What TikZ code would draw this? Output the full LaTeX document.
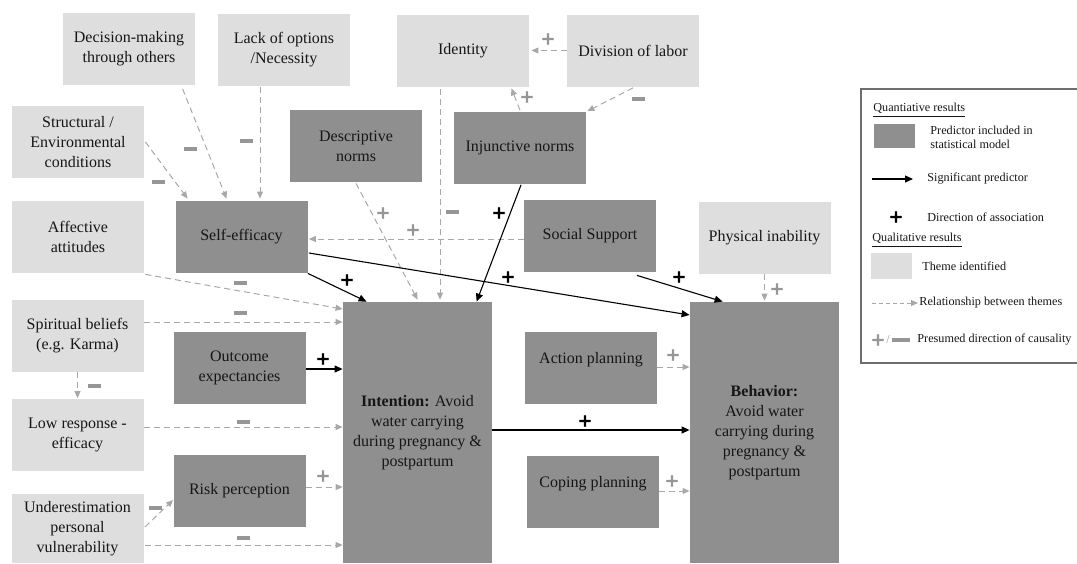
\documentclass[tikz,border=0pt]{standalone}
\usepackage{fontspec}
\setmainfont{Liberation Serif}
\newfontfamily\signfont{DejaVu Sans Bold}[FakeBold=2.5]
\usetikzlibrary{arrows.meta,calc}
\definecolor{lightfill}{RGB}{222,222,222}
\definecolor{darkfill}{RGB}{143,143,143}
\definecolor{dashgray}{RGB}{168,168,168}
\definecolor{signgray}{RGB}{150,150,150}
\definecolor{txt}{RGB}{22,22,22}
\definecolor{legendframe}{RGB}{110,110,110}
\begin{document}
\begin{tikzpicture}[x=0.5pt,y=-0.5pt,
  box/.style={inner sep=0pt, minimum width=66pt, minimum height=36pt, align=center, text=txt, font=\fontsize{8}{10}\selectfont},
  theme/.style={box, fill=lightfill},
  pred/.style={box, fill=darkfill},
  bigbox/.style={pred, minimum width=74.5pt, minimum height=130.5pt},
  dasharr/.style={draw=dashgray, line width=0.5pt, dash pattern=on 3pt off 2pt, -{Triangle[length=3.5pt,width=3pt]}},
  solidarr/.style={draw=black, line width=0.55pt, -{Triangle[length=4pt,width=3.5pt]}},
  bsign/.style={font=\signfont\fontsize{8.5}{8.5}\selectfont, text=black, inner sep=0pt},
  gsign/.style={bsign, text=signgray},
  msign/.style={fill=signgray, minimum width=6.5pt, minimum height=2pt, inner sep=0pt},
  legtext/.style={font=\fontsize{6.1}{7}\selectfont, inner sep=1pt, text=txt}
]
\useasboundingbox (0,0) rectangle (1077,563);

% theme boxes
\node[theme] (dec) at (129,48.5) {Decision-making\\through others};
\node[theme] (lack) at (284,50) {Lack of options\\/Necessity};
\node[theme] (ident) at (463,50.5) {Identity};
\node[theme] (divl) at (633,50.5) {Division of labor};
\node[theme] (struct) at (78,142) {Structural /\\Environmental\\conditions};
\node[theme] (affect) at (78,237) {Affective\\attitudes};
\node[theme] (spirit) at (77.5,335.5) {Spiritual beliefs\\(e.g. Karma)};
\node[theme] (lowresp) at (77.5,434.5) {Low response -\\efficacy};
\node[theme, minimum height=34.5pt] (under) at (77.5,528.5) {Underestimation\\personal\\vulnerability};
\node[theme] (phys) at (764.5,238) {Physical inability};

% predictor boxes
\node[pred] (selfeff) at (241.5,237) {Self-efficacy};
\node[pred] (descr) at (356,146) {Descriptive\\norms};
\node[pred] (injunc) at (520,147.5) {Injunctive norms};
\node[pred] (social) at (590,236) {Social Support};
\node[pred] (outcome) at (239.5,368) {Outcome\\expectancies};
\node[pred] (risk) at (239.5,490.5) {Risk perception};
\node[pred] (action) at (591,368) {Action planning\\\mbox{}};
\node[pred] (coping) at (593,491.5) {Coping planning\\\mbox{}};
\node[bigbox] (intent) at (417.5,432.5) {\textbf{Intention:} Avoid\\water carrying\\during pregnancy \&\\postpartum};
\node[bigbox] (behav) at (764.5,432.5) {\textbf{Behavior:}\\Avoid water\\carrying during\\pregnancy \&\\postpartum};

% dashed relationships
\draw[dasharr] ($(dec.south west)+(120,4)$) -- ($(selfeff.north west)+(51.5,-2)$);
\draw[dasharr] ($(struct.east)+(1,0)$) -- ($(selfeff.north west)+(12.5,-2)$);
\draw[dasharr] ($(lack.south)+(-24,1)$) -- ($(selfeff.north)+(18.5,-2)$);
\draw[dasharr] (divl.west) -- ($(ident.east)+(2,0)$);
\draw[dasharr] ($(injunc.north)+(0,-1)$) -- ($(ident.south east)+(-18,1.5)$);
\draw[dasharr] ($(divl.south)+(0,1)$) -- ($(injunc.north east)+(1,0)$);
\draw[dasharr] ($(descr.south)+(0,1)$) -- ($(intent.north west)+(75,-2)$);
\draw[dasharr] ($(ident.south)+(-23,2)$) -- ($(intent.north)+(22.5,-2)$);
\draw[dasharr] ($(social.west)+(0,3)$) -- ($(selfeff.east)+(1,2)$);
\draw[dasharr] ($(affect.south east)+(1,1)$) -- ($(intent.west)+(0,-123.5)$);
\draw[dasharr] ($(spirit.east)+(0,-13.5)$) -- ($(intent.west)+(0,-110.5)$);
\draw[dasharr] (spirit.south) -- (lowresp.north);
\draw[dasharr] ($(lowresp.east)+(0,-7.5)$) -- ($(intent.west)+(0,-5.5)$);
\draw[dasharr] ($(risk.east)+(0,-3.5)$) -- ($(intent.west)+(0,54.5)$);
\draw[dasharr] ($(under.east)+(1,-1.5)$) -- ($(risk.west)+(0,9.5)$);
\draw[dasharr] ($(under.east)+(1,16.5)$) -- ($(intent.west)+(0,112.5)$);
\draw[dasharr] ($(action.east)+(0,-1)$) -- ($(behav.west)+(0,-65.5)$);
\draw[dasharr] ($(coping.east)+(0,-0.5)$) -- ($(behav.west)+(0,58.5)$);
\draw[dasharr] (phys.south) -- ($(behav.north)+(0,-1)$);

% significant predictors
\draw[solidarr] (selfeff.south east) -- ($(intent.north west)+(24,0)$);
\draw[solidarr] ($(selfeff.east)+(1,16)$) -- ($(behav.west)+(0,-117.5)$);
\draw[solidarr] ($(injunc.south)+(1,1)$) -- ($(intent.north west)+(134,0)$);
\draw[solidarr] ($(social.south)+(47,3)$) -- ($(behav.north west)+(33,0)$);
\draw[solidarr] ($(outcome.east)+(0,1)$) -- ($(intent.west)+(0,-63.5)$);
\draw[solidarr] ($(intent.east)+(0,-2.5)$) -- ($(behav.west)+(0,-2.5)$);

% minus signs
\node[msign] (m1) at (190,149) {};
\node[msign] (m2) at (158,182) {};
\node[msign] (m3) at (246,141) {};
\node[msign] (m4) at (638,99) {};
\node[msign] (m5) at (452,212) {};
\node[msign] (m6) at (240,283) {};
\node[msign] (m7) at (240,313) {};
\node[msign] (m8) at (94,386) {};
\node[msign] (m9) at (243,422) {};
\node[msign] (m10) at (155,508) {};
\node[msign] (m11) at (243,538) {};

% grey plus signs
\node[gsign] (g1) at (548,39) {+};
\node[gsign] (g2) at (527,97) {+};
\node[gsign] (g3) at (383,213) {+};
\node[gsign] (g4) at (413,230) {+};
\node[gsign] (g5) at (323,476) {+};
\node[gsign] (g6) at (673,355) {+};
\node[gsign] (g7) at (672,481) {+};
\node[gsign] (g8) at (777,289) {+};

% black plus signs
\node[bsign] (b1) at (347,280) {+};
\node[bsign] (b2) at (508,277) {+};
\node[bsign] (b3) at (499,213) {+};
\node[bsign] (b4) at (679,277) {+};
\node[bsign] (b5) at (323,359) {+};
\node[bsign] (b6) at (585,421) {+};

% legend
\draw[legendframe, line width=0.6pt] (1077,89) -- (861,89) -- (861,363) -- (1077,363);
\node[legtext, anchor=west] (lq) at (871,110) {\underline{Quantiative results}};
\node[pred, minimum width=20.5pt, minimum height=12pt] (lpred) at (894.5,136) {};
\node[legtext, anchor=west, align=left] (lpredt) at (928,137) {Predictor included in\\statistical model};
\coordinate (la1) at (872,179);
\coordinate (la2) at (913,179);
\draw[solidarr] (la1) -- (la2);
\node[legtext, anchor=west] (lsig) at (925,179) {Significant predictor};
\node[bsign] (lplus) at (896,217) {+};
\node[legtext, anchor=west] (ldir) at (925,217) {Direction of association};
\node[legtext, anchor=west] (lqual) at (870,240) {\underline{Qualitative results}};
\node[theme, minimum width=20.5pt, minimum height=13pt] (ltheme) at (891.5,266) {};
\node[legtext, anchor=west] (lthemet) at (920,266) {Theme identified};
\coordinate (ld1) at (872,303);
\coordinate (ld2) at (918,303);
\draw[dasharr, dash pattern=on 2pt off 1.5pt] (ld1) -- (ld2);
\node[legtext, anchor=west] (lrel) at (917,303) {Relationship between themes};
\node[gsign] (lgp) at (878,340) {+};
\node[legtext, text=signgray] (lslash) at (888,340) {/};
\node[msign, minimum width=9pt] (lgm) at (901,340) {};
\node[legtext, anchor=west] (lpres) at (915,340) {Presumed direction of causality};
\end{tikzpicture}
\end{document}
